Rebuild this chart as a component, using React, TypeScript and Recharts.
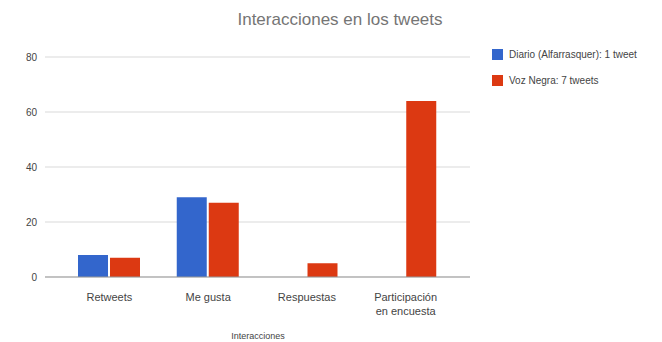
import { Bar, BarChart, CartesianGrid, Text, XAxis, YAxis } from "recharts";

const categories = ["Retweets", "Me gusta", "Respuestas", "Participación en encuesta"];
const diarioValues = [8, 29, 0, 0];
const vozValues = [7, 27, 5, 64];
const yTicks = [0, 20, 40, 60, 80];

const seriesNames = ["Diario (Alfarrasquer): 1 tweet", "Voz Negra: 7 tweets"];
const colors = ["#3366cc", "#dc3912"];

const data = categories.map((name, i) => ({
  name,
  diario: diarioValues[i],
  voz: vozValues[i],
}));

const font = "'Liberation Sans', Arial, sans-serif";

function CategoryTick(props: any) {
  const { x, y, payload } = props;
  return (
    <Text
      x={x}
      y={y + 8}
      width={90}
      textAnchor="middle"
      verticalAnchor="start"
      fontSize={11}
      fill="#444"
      fontFamily={font}
      lineHeight={14}
    >
      {payload.value}
    </Text>
  );
}

function LegendBox() {
  return (
    <div
      style={{
        position: "absolute",
        left: 492,
        top: 41,
        fontFamily: font,
        fontSize: 10,
        color: "#444",
      }}
    >
      {seriesNames.map((n, i) => (
        <div key={n} style={{ display: "flex", alignItems: "center", height: 26 }}>
          <span
            style={{
              width: 11,
              height: 11,
              background: colors[i],
              display: "inline-block",
              marginRight: 6,
            }}
          />
          <span style={{ whiteSpace: "nowrap" }}>{n}</span>
        </div>
      ))}
    </div>
  );
}

export default function App() {
  return (
    <div style={{ position: "absolute", left: 0, top: 0, width: 662, height: 342, background: "#fff" }}>
      <BarChart
        width={662}
        height={342}
        data={data}
        margin={{ top: 57, right: 192, left: 0, bottom: 25 }}
        barGap={2}
        barSize={30}
      >
        <CartesianGrid stroke="#d9d9d9" vertical={false} />
        <XAxis
          dataKey="name"
          interval={0}
          height={40}
          padding={{ left: 15, right: 15 }}
          tickLine={false}
          axisLine={{ stroke: "#999" }}
          tick={<CategoryTick />}
        />
        <YAxis
          width={45}
          domain={[0, 80]}
          ticks={yTicks}
          tickLine={false}
          axisLine={false}
          tick={{ fontSize: 10, fill: "#444", fontFamily: font }}
        />
        <Bar dataKey="diario" name={seriesNames[0]} fill={colors[0]} isAnimationActive={false} />
        <Bar dataKey="voz" name={seriesNames[1]} fill={colors[1]} isAnimationActive={false} />
      </BarChart>
      <div
        style={{
          position: "absolute",
          left: 190,
          width: 300,
          top: 10,
          textAlign: "center",
          fontFamily: font,
          fontSize: 17,
          color: "#757575",
        }}
      >
        Interacciones en los tweets
      </div>
      <LegendBox />
      <div
        style={{
          position: "absolute",
          left: 200,
          width: 116,
          top: 331,
          textAlign: "center",
          fontFamily: font,
          fontSize: 9,
          color: "#444",
        }}
      >
        Interacciones
      </div>
    </div>
  );
}
